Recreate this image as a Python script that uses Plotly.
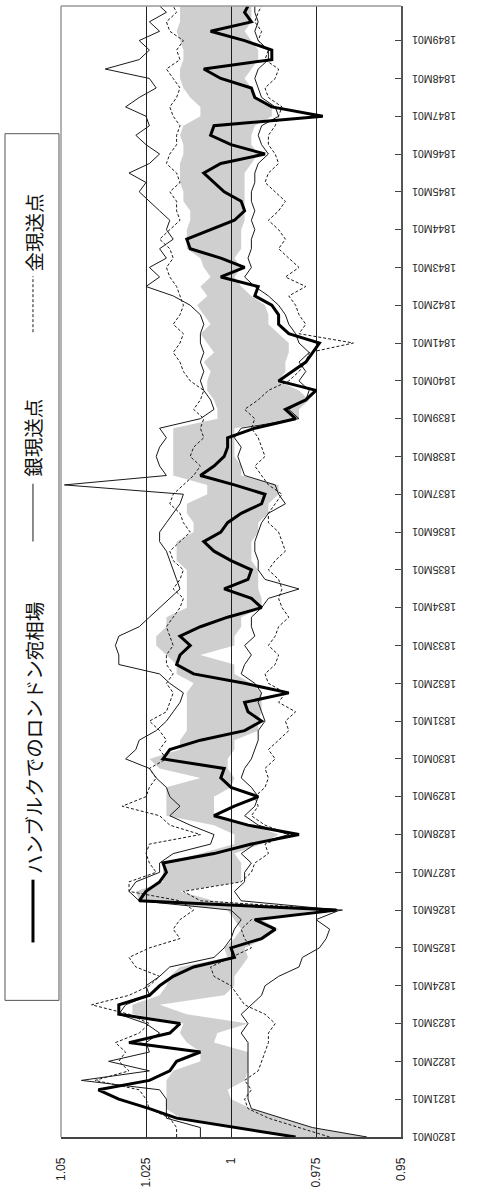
import plotly.graph_objects as go

# Quarterly observations 1820M01 .. 1849M10, plus the closing month 1849M12
months = [f"{1820 + i // 4}-{(i % 4) * 3 + 1:02d}-01" for i in range(120)] + ["1849-12-01"]

# Hamburg rate on London (thick line)
hamburg_rate = [
    0.981, 0.999, 1.016, 1.024, 1.033, 1.039, 1.024, 1.018, 1.016, 1.009,
    1.030, 1.018, 1.015, 1.033, 1.033, 1.024, 1.021, 1.017, 1.011, 0.999,
    1.000, 0.991, 0.987, 0.993, 0.969, 1.027, 1.025, 1.021, 1.019, 1.020,
    1.005, 0.994, 0.980, 0.995, 1.005, 0.999, 0.992, 1.000, 1.003, 1.002,
    1.020, 1.018, 1.009, 0.996, 0.991, 0.995, 0.996, 0.983, 0.996, 1.011,
    1.016, 1.015, 1.012, 1.015, 1.009, 1.001, 0.991, 0.994, 1.002, 0.995,
    0.994, 1.000, 1.005, 1.008, 1.003, 1.001, 0.997, 0.991, 0.990, 0.999,
    1.009, 1.005, 1.002, 1.001, 1.001, 0.993, 0.981, 0.984, 0.978, 0.975,
    0.986, 0.982, 0.978, 0.976, 0.974, 0.983, 0.986, 0.986, 0.988, 0.993,
    0.992, 1.003, 0.996, 1.003, 1.012, 1.013, 1.006, 0.999, 0.996, 0.997,
    1.002, 1.005, 1.008, 1.003, 0.990, 1.000, 1.006, 1.005, 0.973, 0.988,
    0.993, 0.994, 1.003, 1.008, 0.988, 0.988, 0.996, 1.006, 0.994, 0.996,
    0.995,
]

# Shaded band: upper and lower edges
band_upper = [
    0.982, 0.999, 1.015, 1.019, 1.019, 1.019, 1.019, 1.017, 1.009, 1.009,
    1.013, 1.015, 1.014, 1.029, 1.029, 1.021, 1.019, 1.018, 1.015, 1.001,
    1.002, 0.999, 0.997, 0.999, 1.001, 1.027, 1.028, 1.020, 1.020, 1.020,
    1.009, 0.999, 0.999, 1.005, 1.019, 1.019, 1.019, 1.019, 1.009, 1.021,
    1.024, 1.015, 1.015, 1.013, 1.013, 1.013, 1.013, 1.013, 1.011, 1.016,
    1.016, 1.019, 1.022, 1.022, 1.019, 1.019, 1.013, 1.013, 1.013, 1.013,
    1.013, 1.016, 1.016, 1.016, 1.011, 1.011, 1.013, 1.013, 1.007, 1.007,
    1.017, 1.017, 1.017, 1.017, 1.017, 1.017, 1.004, 1.004, 1.005, 1.007,
    1.007, 1.006, 1.008, 1.005, 1.007, 1.009, 1.006, 1.008, 1.010, 1.007,
    1.009, 1.006, 1.008, 1.009, 1.013, 1.013, 1.013, 1.012, 1.012, 1.014,
    1.014, 1.015, 1.015, 1.015, 1.014, 1.014, 1.015, 1.014, 1.009, 1.009,
    1.012, 1.014, 1.015, 1.015, 1.014, 1.014, 1.015, 1.016, 1.015, 1.015,
    1.015,
]
band_lower = [
    0.960, 0.976, 0.985, 0.994, 1.000, 1.001, 0.996, 0.995, 0.995, 0.995,
    1.005, 1.004, 0.995, 1.013, 1.021, 1.002, 0.999, 0.999, 0.997, 0.995,
    0.996, 0.990, 0.986, 0.991, 0.974, 1.005, 1.015, 0.997, 0.997, 0.997,
    0.999, 0.991, 0.986, 0.994, 1.005, 1.005, 1.005, 1.000, 0.999, 1.001,
    1.001, 0.999, 0.999, 0.992, 0.992, 0.991, 0.991, 0.991, 0.994, 0.999,
    0.999, 1.009, 0.999, 0.999, 0.997, 0.997, 0.991, 0.991, 0.992, 0.992,
    0.992, 0.994, 0.994, 0.994, 0.992, 0.992, 0.989, 0.989, 0.986, 0.986,
    0.997, 0.997, 0.999, 0.999, 0.999, 0.999, 0.980, 0.980, 0.977, 0.980,
    0.986, 0.984, 0.984, 0.983, 0.983, 0.986, 0.989, 0.989, 0.990, 0.994,
    0.997, 0.999, 0.997, 0.999, 0.997, 0.997, 0.997, 0.996, 0.996, 0.996,
    0.996, 0.996, 0.996, 0.994, 0.992, 0.994, 0.994, 0.993, 0.988, 0.988,
    0.993, 0.994, 0.996, 0.994, 0.992, 0.992, 0.994, 0.996, 0.994, 0.994,
    0.994,
]

# Silver specie points (thin solid lines)
silver_upper = [
    1.009, 1.009, 1.019, 1.019, 1.019, 1.021, 1.044, 1.024, 1.036, 1.024,
    1.025, 1.021, 1.025, 1.033, 1.031, 1.024, 1.025, 1.021, 1.018, 1.005,
    1.002, 1.000, 0.999, 0.997, 1.000, 1.027, 1.030, 1.028, 1.021, 1.021,
    1.017, 1.006, 1.005, 1.012, 1.018, 1.015, 1.018, 1.019, 1.022, 1.024,
    1.031, 1.028, 1.027, 1.022, 1.019, 1.017, 1.015, 1.014, 1.018, 1.021,
    1.033, 1.033, 1.034, 1.033, 1.027, 1.024, 1.021, 1.018, 1.015, 1.016,
    1.017, 1.018, 1.019, 1.021, 1.021, 1.019, 1.017, 1.015, 1.014, 1.049,
    1.019, 1.021, 1.022, 1.021, 1.019, 1.021, 1.009, 1.005, 1.006, 1.008,
    1.009, 1.008, 1.009, 1.008, 1.009, 1.009, 1.008, 1.009, 1.012, 1.017,
    1.025, 1.021, 1.024, 1.019, 1.021, 1.017, 1.019, 1.018, 1.021, 1.024,
    1.027, 1.025, 1.030, 1.024, 1.021, 1.025, 1.028, 1.024, 1.025, 1.031,
    1.027, 1.022, 1.024, 1.037, 1.027, 1.024, 1.027, 1.021, 1.024, 1.019,
    1.021,
]
silver_lower = [
    0.960, 0.976, 0.985, 0.994, 0.995, 0.995, 0.995, 0.995, 0.995, 0.995,
    0.995, 0.997, 0.995, 0.997, 0.994, 0.991, 0.990, 0.986, 0.980, 0.979,
    0.974, 0.972, 0.971, 0.975, 0.968, 0.997, 0.999, 0.996, 0.996, 0.994,
    0.997, 0.993, 0.983, 0.992, 0.996, 0.993, 0.992, 0.994, 0.997, 0.996,
    0.994, 0.993, 0.992, 0.992, 0.990, 0.991, 0.992, 0.991, 0.993, 0.997,
    0.996, 0.994, 0.996, 0.993, 0.994, 0.994, 0.991, 0.989, 0.980, 0.990,
    0.992, 0.992, 0.993, 0.993, 0.992, 0.991, 0.989, 0.984, 0.986, 0.987,
    0.996, 0.997, 0.998, 0.997, 0.999, 0.997, 0.980, 0.983, 0.978, 0.977,
    0.980, 0.978, 0.980, 0.977, 0.980, 0.981, 0.983, 0.984, 0.986, 0.989,
    0.993, 0.996, 0.994, 0.995, 0.994, 0.994, 0.993, 0.994, 0.993, 0.994,
    0.994, 0.993, 0.993, 0.992, 0.989, 0.991, 0.992, 0.991, 0.986, 0.987,
    0.991, 0.992, 0.993, 0.992, 0.989, 0.989, 0.992, 0.993, 0.992, 0.993,
    0.993,
]

# Gold specie points (thin dashed lines)
gold_upper = [
    1.016, 1.016, 1.018, 1.024, 1.025, 1.027, 1.040, 1.030, 1.033, 1.031,
    1.034, 1.027, 1.024, 1.030, 1.041, 1.030, 1.024, 1.021, 1.028, 1.030,
    1.024, 1.015, 1.017, 1.015, 1.011, 1.015, 1.030, 1.030, 1.022, 1.024,
    1.025, 1.024, 1.009, 1.018, 1.021, 1.032, 1.025, 1.024, 1.022, 1.024,
    1.019, 1.021, 1.019, 1.021, 1.024, 1.019, 1.018, 1.017, 1.019, 1.017,
    1.019, 1.019, 1.017, 1.018, 1.019, 1.017, 1.015, 1.014, 1.017, 1.015,
    1.014, 1.017, 1.018, 1.015, 1.012, 1.014, 1.015, 1.018, 1.017, 1.014,
    1.011, 1.009, 1.012, 1.011, 1.008, 1.009, 1.008, 1.011, 1.009, 1.008,
    1.012, 1.014, 1.015, 1.017, 1.015, 1.014, 1.017, 1.015, 1.014, 1.015,
    1.016, 1.018, 1.019, 1.017, 1.018, 1.021, 1.018, 1.015, 1.016, 1.016,
    1.018, 1.015, 1.016, 1.019, 1.018, 1.016, 1.016, 1.015, 1.017, 1.018,
    1.016, 1.015, 1.017, 1.019, 1.015, 1.016, 1.014, 1.018, 1.019, 1.016,
    1.017,
]
gold_lower = [
    0.971, 0.980, 0.989, 0.995, 0.996, 0.994, 0.996, 0.992, 0.991, 0.990,
    0.989, 0.989, 0.987, 0.990, 0.996, 0.998, 1.000, 1.005, 1.006, 1.000,
    0.994, 0.996, 0.997, 0.994, 0.967, 1.009, 1.014, 0.997, 0.994, 0.993,
    0.989, 0.990, 0.983, 0.990, 0.994, 0.992, 0.993, 0.990, 0.989, 0.990,
    0.987, 0.989, 0.986, 0.983, 0.984, 0.981, 0.986, 0.984, 0.989, 0.990,
    0.987, 0.986, 0.989, 0.987, 0.986, 0.983, 0.985, 0.986, 0.985, 0.986,
    0.989, 0.987, 0.984, 0.985, 0.986, 0.989, 0.989, 0.987, 0.985, 0.989,
    0.991, 0.993, 0.990, 0.991, 0.992, 0.994, 0.993, 0.996, 0.992, 0.989,
    0.983, 0.980, 0.978, 0.977, 0.964, 0.980, 0.978, 0.980, 0.981, 0.983,
    0.978, 0.984, 0.980, 0.983, 0.986, 0.984, 0.986, 0.989, 0.986, 0.984,
    0.987, 0.990, 0.989, 0.986, 0.987, 0.989, 0.989, 0.987, 0.986, 0.985,
    0.989, 0.990, 0.987, 0.986, 0.990, 0.989, 0.992, 0.991, 0.993, 0.992,
    0.991,
]

year_ticks = [f"{y}-01-01" for y in range(1820, 1850)]
year_labels = [f"{y}M01" for y in range(1820, 1850)]
value_ticks = [1.05, 1.025, 1.0, 0.975, 0.95]
value_labels = ["1.05", "1.025", "1", "0.975", "0.95"]

legend_rate = "ハンブルクでのロンドン宛相場"
legend_silver = "銀現送点"
legend_gold = "金現送点"

fig = go.Figure()

# shaded band as one closed polygon
fig.add_trace(go.Scatter(
    x=band_upper + band_lower[::-1],
    y=months + months[::-1],
    fill="toself", fillcolor="rgba(0,0,0,0.19)",
    line=dict(width=0), mode="lines", hoverinfo="skip", showlegend=False,
))

thin = dict(color="#1a1a1a", width=1)
for series in (silver_upper, silver_lower):
    fig.add_trace(go.Scatter(x=series, y=months, mode="lines",
                             line=thin, showlegend=False))
for series in (gold_upper, gold_lower):
    fig.add_trace(go.Scatter(x=series, y=months, mode="lines",
                             line=dict(color="#1a1a1a", width=1, dash="3px,2px"),
                             showlegend=False))

fig.add_trace(go.Scatter(x=hamburg_rate, y=months, mode="lines",
                         line=dict(color="#000000", width=3), showlegend=False))

fig.update_layout(
    width=477, height=1194,
    margin=dict(l=61, r=76, t=6, b=54),
    paper_bgcolor="white", plot_bgcolor="white",
    font=dict(family="Liberation Sans, Arial, sans-serif", color="#222"),
    xaxis=dict(
        range=[1.05, 0.95], tickvals=value_ticks, ticktext=value_labels,
        tickangle=-90, showgrid=True, gridcolor="#222", gridwidth=1,
        zeroline=False, showline=True, linecolor="#444", linewidth=1.5,
        ticks="", ticklabelstandoff=14, tickfont=dict(size=12, color="#222"),
    ),
    yaxis=dict(
        type="date", range=["1820-01-01", "1849-12-01"], side="right",
        tickvals=year_ticks, showticklabels=False,
        ticks="inside", ticklen=6, tickcolor="#444", showgrid=False,
        zeroline=False, showline=True, linecolor="#555", linewidth=1.5,
    ),
)

# month labels, printed upside down beside the right axis
for tick, label in zip(year_ticks, year_labels):
    fig.add_annotation(text=label, xref="paper", yref="y", x=1.097, y=tick,
                       textangle=180, showarrow=False,
                       font=dict(size=10.5, color="#222"),
                       xanchor="center", yanchor="middle")

# light frame on top and left of the plot area
frame = dict(color="#9a9a9a", width=1.5)
fig.add_shape(type="line", xref="paper", yref="paper", x0=0, x1=1, y0=1, y1=1,
              line=frame, layer="above")
fig.add_shape(type="line", xref="paper", yref="paper", x0=0, x1=0, y0=0, y1=1,
              line=frame, layer="above")

# legend box drawn vertically on the left
fig.add_shape(type="rect", xref="paper", yref="paper",
              x0=-0.1647, x1=-0.0059, y0=0.1208, y1=0.8871,
              line=dict(color="#555", width=1), fillcolor="white", layer="above")
lx = -0.0824
fig.add_shape(type="line", xref="paper", yref="paper", x0=lx, x1=lx,
              y0=0.1720, y1=0.2275, line=dict(color="#000", width=3))
fig.add_shape(type="line", xref="paper", yref="paper", x0=lx, x1=lx,
              y0=0.5265, y1=0.5776, line=dict(color="#1a1a1a", width=1))
fig.add_shape(type="line", xref="paper", yref="paper", x0=lx, x1=lx,
              y0=0.7116, y1=0.7610, line=dict(color="#1a1a1a", width=1, dash="3px,2px"))

jp = dict(family="Noto Sans CJK JP", size=19.5, color="#111")
for text, yc in ((legend_rate, 0.3527), (legend_silver, 0.6182), (legend_gold, 0.7998)):
    fig.add_annotation(text=text, xref="paper", yref="paper", x=lx, y=yc,
                       textangle=-90, showarrow=False, font=jp,
                       xanchor="center", yanchor="middle")

fig.write_html("out.html")
